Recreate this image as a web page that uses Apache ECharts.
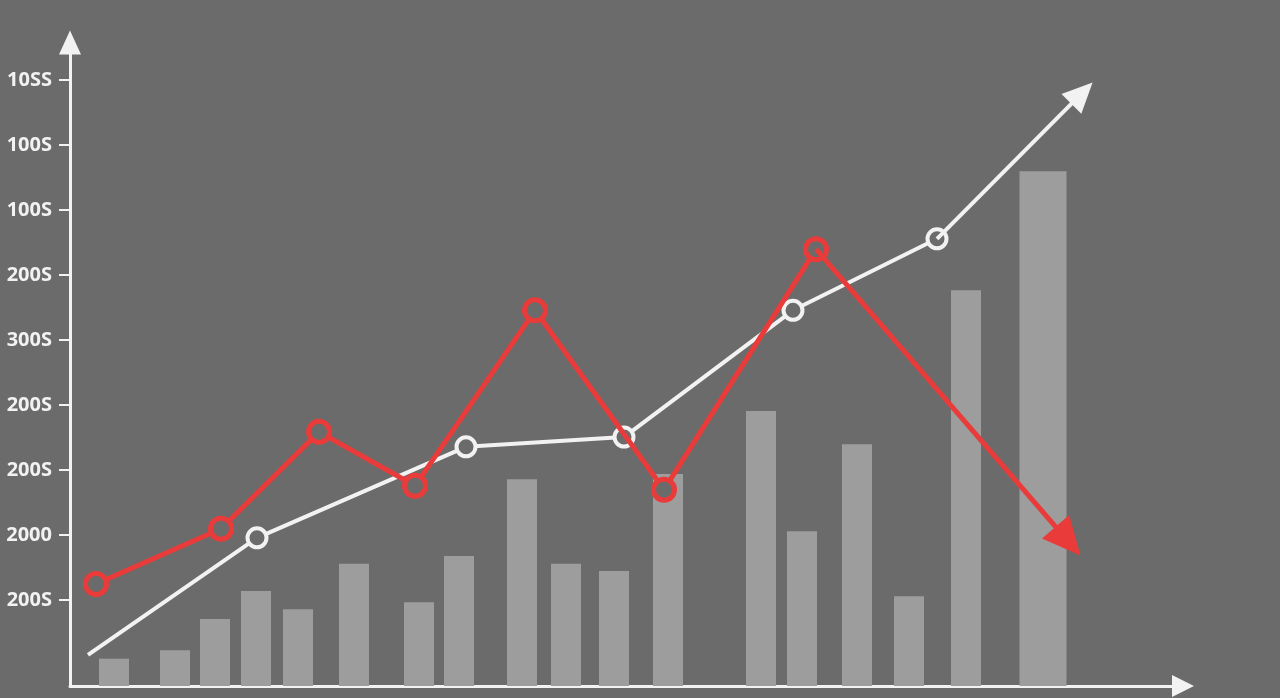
<!DOCTYPE html>
<html>
<head>
<meta charset="utf-8">
<style>
html,body{margin:0;padding:0;background:#6b6b6b;}
#chart{width:1280px;height:698px;}
</style>
<script src="https://cdn.jsdelivr.net/npm/echarts@6/dist/echarts.min.js"></script>
</head>
<body>
<div id="chart"></div>
<script>
// Bars (x position, height)
const barX = [4.4, 10.5, 14.5, 18.6, 22.8, 28.4, 34.9, 38.9, 45.2, 49.6, 54.4, 59.8, 69.1, 73.2, 78.7, 83.9, 89.6];
const barY = [4.2, 5.5, 10.3, 14.6, 11.8, 18.8, 12.9, 20.0, 31.8, 18.8, 17.7, 32.6, 42.3, 23.8, 37.2, 13.8, 60.9];
const wideBarX = [97.3];
const wideBarY = [79.2];
// White trend line
const whiteX = [1.8, 18.7, 39.6, 55.4, 72.3, 86.7];
const whiteY = [4.8, 22.8, 36.8, 38.3, 57.8, 68.8];
const whiteArrowEnd = [101.2, 91.2];
// Red line
const redX = [2.6, 15.1, 24.9, 34.5, 46.5, 59.4, 74.6];
const redY = [15.7, 24.2, 39.1, 30.8, 57.8, 30.2, 67.2];
const redArrowEnd = [99.8, 22.3];
// Y axis ticks
const yTickValues = [13.2, 23.2, 33.2, 43.2, 53.2, 63.2, 73.2, 83.2, 93.2];
const yTickLabels = ['200S', '2000', '200S', '200S', '300S', '200S', '100S', '100S', '10SS'];

const BG = '#6b6b6b';
const WHITE = '#f2f2f2';
const RED = '#ea3b3b';
const BAR = '#9d9d9d';

function pairs(xs, ys) { return xs.map((x, i) => [x, ys[i]]); }

const whiteData = pairs(whiteX, whiteY).map((p, i) => i === 0 ? {value: p, symbol: 'none'} : {value: p});
const redData = pairs(redX, redY);

const chart = echarts.init(document.getElementById('chart'));
chart.setOption({
  backgroundColor: BG,
  animation: false,
  grid: {left: 70, right: 97, top: 42.5, bottom: 12, containLabel: false},
  xAxis: [
    {
      type: 'value', min: 0, max: 111.3,
      axisLine: {show: true, lineStyle: {color: WHITE, width: 3}, symbol: ['none', 'triangle'], symbolSize: [22, 22]},
      axisTick: {show: false}, axisLabel: {show: false}, splitLine: {show: false}
    },
    {type: 'value', min: 0, max: 111.3, show: false}
  ],
  yAxis: {
    type: 'value', min: 0, max: 99,
    axisLine: {show: true, lineStyle: {color: WHITE, width: 3}, symbol: ['none', 'triangle'], symbolSize: [22, 24]},
    axisTick: {show: true, customValues: yTickValues, length: 11, lineStyle: {color: WHITE, width: 2}},
    axisLabel: {
      show: true, customValues: yTickValues, margin: 18,
      color: WHITE, fontSize: 20, fontWeight: 'bold', fontFamily: 'Noto Sans',
      formatter: function (v) {
        let best = 0;
        for (let i = 0; i < yTickValues.length; i++) {
          if (Math.abs(yTickValues[i] - v) < Math.abs(yTickValues[best] - v)) best = i;
        }
        return yTickLabels[best];
      }
    },
    splitLine: {show: false}
  },
  series: [
    {
      type: 'bar', xAxisIndex: 0, barWidth: 30, z: 1,
      itemStyle: {color: BAR},
      data: pairs(barX, barY)
    },
    {
      type: 'bar', xAxisIndex: 1, barWidth: 47, z: 1,
      itemStyle: {color: BAR},
      data: pairs(wideBarX, wideBarY)
    },
    {
      type: 'line', z: 3,
      symbol: 'circle', symbolSize: 19, showAllSymbol: true,
      lineStyle: {color: WHITE, width: 4},
      itemStyle: {color: BG, borderColor: WHITE, borderWidth: 4},
      data: whiteData,
      markLine: {
        silent: true, animation: false,
        symbol: ['none', 'triangle'], symbolSize: [28, 30],
        label: {show: false},
        lineStyle: {color: WHITE, width: 4, type: 'solid'},
        itemStyle: {color: WHITE},
        emphasis: {disabled: true},
        data: [[{coord: [whiteX[whiteX.length - 1], whiteY[whiteY.length - 1]]}, {coord: whiteArrowEnd}]]
      }
    },
    {
      type: 'line', z: 4,
      symbol: 'circle', symbolSize: 21, showAllSymbol: true,
      lineStyle: {color: RED, width: 5},
      itemStyle: {color: BG, borderColor: RED, borderWidth: 5},
      data: redData,
      markLine: {
        silent: true, animation: false,
        symbol: ['none', 'triangle'], symbolSize: [36, 38],
        label: {show: false},
        lineStyle: {color: RED, width: 5, type: 'solid'},
        itemStyle: {color: RED},
        emphasis: {disabled: true},
        data: [[{coord: [redX[redX.length - 1], redY[redY.length - 1]]}, {coord: redArrowEnd}]]
      }
    }
  ]
});
</script>
</body>
</html>
